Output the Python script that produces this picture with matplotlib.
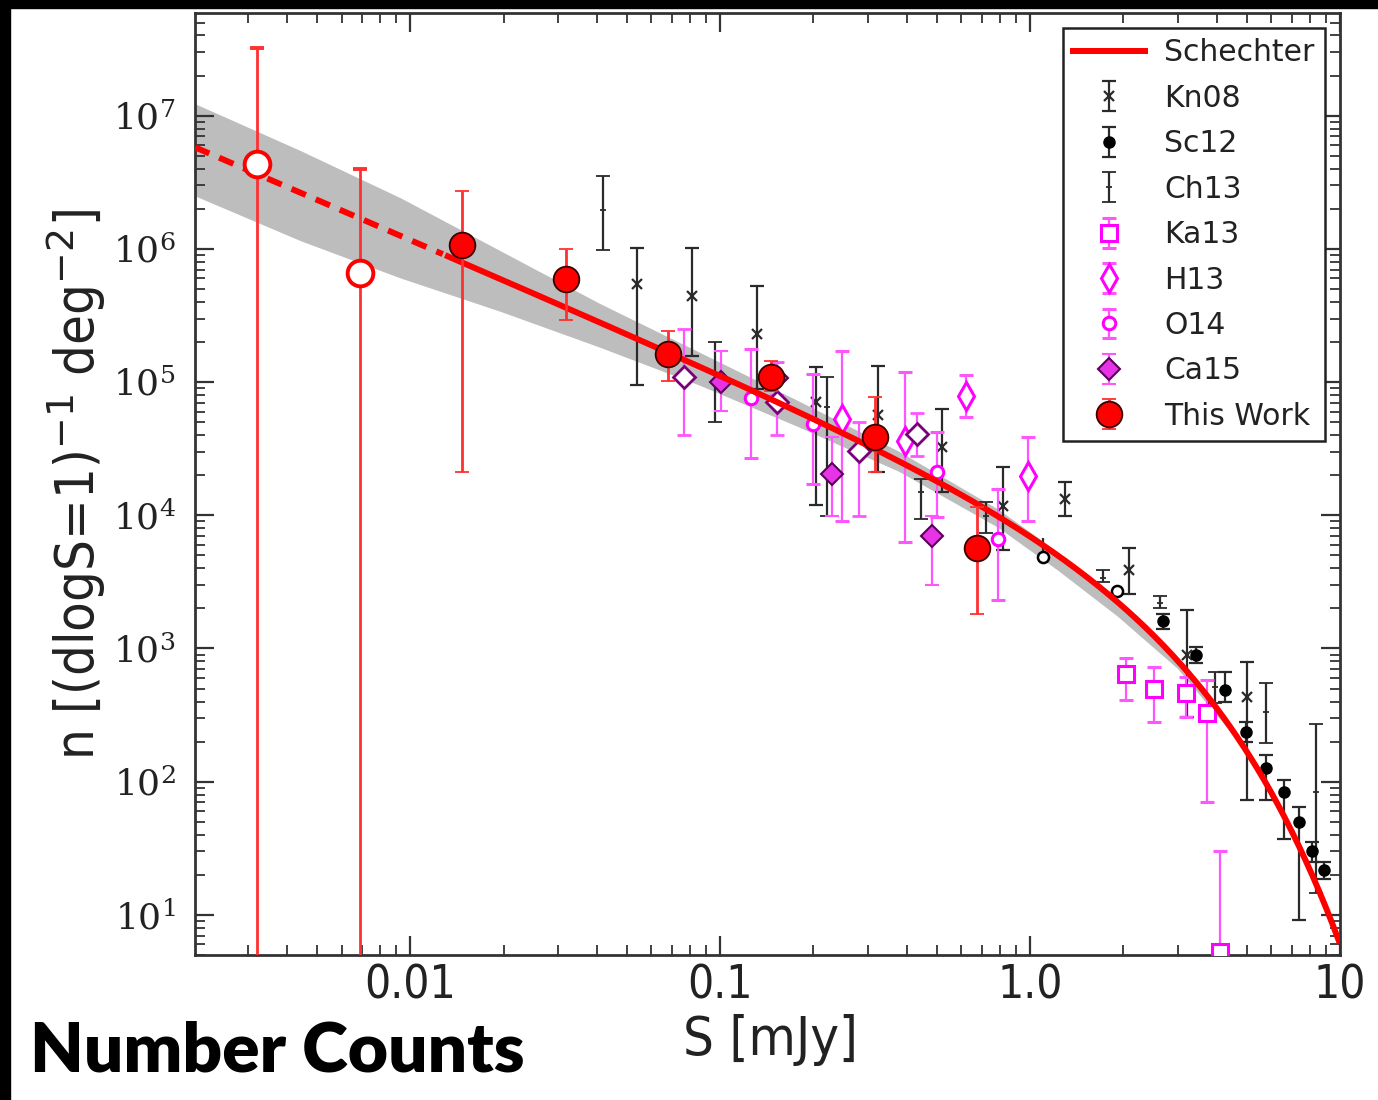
import numpy as np
import matplotlib
matplotlib.use("Agg")
import matplotlib.pyplot as plt
from matplotlib.patches import Rectangle
from matplotlib.lines import Line2D
from matplotlib.ticker import FixedLocator, FixedFormatter, LogLocator, NullFormatter, LogFormatterMathtext

# ---------------- data ----------------
# This Work (filled)
tw_S = [0.0147, 0.0318, 0.068, 0.146, 0.315, 0.676]
tw_n = [1.07e6, 5.9e5, 1.63e5, 1.09e5, 3.85e4, 5.7e3]
tw_lo = [2.1e4, 2.9e5, 1.02e5, 8.5e4, 2.1e4, 1.8e3]
tw_hi = [2.7e6, 1.0e6, 2.4e5, 1.44e5, 7.7e4, 1.15e4]
# This Work (open, below completeness)
two_S = [0.0032, 0.00686]
two_n = [4.35e6, 6.6e5]
two_lo = [1.0, 1.0]
two_hi = [3.2e7, 4.0e6]

# Schechter fit parameters and uncertainty band
sch_phi = 6160.0
sch_Sstar = 1.9
sch_alpha = -1.0
sch_break = 0.0128
band_S = [0.00202, 0.00443, 0.00929, 0.0195, 0.0408, 0.0855, 0.1795, 0.3765, 0.789,
          1.23, 1.918, 2.99, 4.67, 6.0, 8.0, 10.0]
band_hi = [1.23e7, 5.46e6, 2.42e6, 9.7e5, 3.9e5, 1.68e5, 7.2e4, 3.03e4, 1.11e4,
           5.3e3, 2.3e3, 826, 214, 82, 21.5, 6.0]
band_lo = [2.50e6, 1.15e6, 6.05e5, 3.4e5, 1.83e5, 9.5e4, 4.6e4, 2.14e4, 8.1e3,
           3.86e3, 1.74e3, 708, 205, 80, 21.0, 5.8]

# Kn08
kn_S = [0.0537, 0.0813, 0.1315, 0.204, 0.324, 0.518, 0.818, 1.30, 2.08, 3.22, 5.02]
kn_n = [5.46e5, 4.4e5, 2.3e5, 7.1e4, 5.7e4, 3.24e4, 1.17e4, 1.32e4, 3.9e3, 900, 429]
kn_lo = [9.5e4, 1.57e5, 8.9e4, 1.2e4, 2.1e4, 1.49e4, 5.5e3, 9.8e3, 2.55e3, 308, 73]
kn_hi = [1.02e6, 1.02e6, 5.3e5, 1.3e5, 1.32e5, 6.3e4, 2.3e4, 1.77e4, 5.7e3, 1.96e3, 785]
# Sc12
sc_S = [2.68, 3.42, 4.24, 4.99, 5.78, 6.61, 7.38, 8.13, 8.89]
sc_n = [1.6e3, 900, 492, 238, 127, 83, 50, 30, 21.8]
sc_lo = [1.4e3, 780, 400, 200, 73, 37, 9.2, 25, 18.5]
sc_hi = [1.8e3, 1.02e3, 670, 280, 160, 103, 65, 35, 25]
sco_S = [1.10, 1.905]
sco_n = [4.9e3, 2.7e3]
sco_lo = [4.9e3, 2.7e3]
sco_hi = [6.8e3, 2.9e3]
# Ch13
ch_S = [0.0418, 0.0964, 0.221, 0.443, 0.722, 1.72, 2.62, 3.96, 5.78, 8.37]
ch_n = [1.96e6, 1.0e5, 6.5e4, 1.49e4, 9.8e3, 3.4e3, 2.2e3, 518, 336, 83]
ch_lo = [9.8e5, 5.0e4, 9.8e3, 9.3e3, 7.4e3, 3.13e3, 2.03e3, 393, 196, 14.6]
ch_hi = [3.5e6, 2.0e5, 1.09e5, 1.87e4, 1.25e4, 3.86e3, 2.46e3, 671, 554, 269]
# Ka13
ka_S = [2.04, 2.52, 3.18, 3.73, 4.11]
ka_n = [638, 500, 467, 330, 5.3]
ka_lo = [414, 283, 308, 71, 1.0]
ka_hi = [855, 720, 615, 585, 30]
# H13
h_S = [0.247, 0.394, 0.622, 0.986]
h_n = [5.3e4, 3.6e4, 7.85e4, 1.96e4]
h_lo = [9.0e3, 6.3e3, 5.5e4, 9.0e3]
h_hi = [1.71e5, 1.19e5, 1.13e5, 3.86e4]
# O14
o_S = [0.126, 0.199, 0.499, 0.789]
o_n = [7.6e4, 4.83e4, 2.1e4, 6.6e3]
o_lo = [2.7e4, 1.71e4, 9.7e3, 2.3e3]
o_hi = [1.77e5, 1.15e5, 4.2e4, 1.57e4]
# Ca15 (filled) and open diamonds
ca_S = [0.1007, 0.152, 0.229, 0.481]
ca_n = [1.0e5, 1.08e5, 2.03e4, 6.95e3]
ca_lo = [6.05e4, 8.0e4, 9.8e3, 3.0e3]
ca_hi = [1.71e5, 1.4e5, 3.9e4, 9.8e3]
cao_S = [0.0766, 0.152, 0.280, 0.433]
cao_n = [1.09e5, 7.1e4, 3.03e4, 4.06e4]
cao_lo = [4.0e4, 4.0e4, 9.8e3, 2.8e4]
cao_hi = [2.5e5, 1.41e5, 5.0e4, 5.9e4]

x_ticks = [0.01, 0.1, 1.0, 10.0]
x_ticklabels = ["0.01", "0.1", "1.0", "10"]
y_ticks = [1e1, 1e2, 1e3, 1e4, 1e5, 1e6, 1e7]
labels = ["Schechter", "Kn08", "Sc12", "Ch13", "Ka13", "H13", "O14", "Ca15", "This Work"]

# ---------------- figure ----------------
W, H = 1378, 1100
fig = plt.figure(figsize=(W / 100, H / 100), dpi=100)
fig.patch.set_facecolor("white")
ax = fig.add_axes([195 / W, 1 - 955 / H, (1340 - 195) / W, (955 - 13) / H])
ax.set_xscale("log")
ax.set_yscale("log")
ax.set_xlim(0.00202, 10)
ax.set_ylim(5.0, 5.9e7)

cond = dict(family="DejaVu Sans", stretch="condensed")


def yerr(n, lo, hi):
    n = np.asarray(n); lo = np.asarray(lo); hi = np.asarray(hi)
    return [n - lo, hi - n]


# band
ax.fill_between(band_S, band_lo, band_hi, color="#bdbdbd", lw=0, zorder=1)

# Schechter curve
S_grid = np.logspace(np.log10(0.00202), 1, 500)
n_grid = sch_phi * (S_grid / sch_Sstar) ** sch_alpha * np.exp(-S_grid / sch_Sstar)
m = S_grid <= sch_break
ax.plot(S_grid[m], n_grid[m], color="red", lw=4.3, ls=(0, (2.6, 1.8)), zorder=6)
ax.plot(S_grid[S_grid >= sch_break], n_grid[S_grid >= sch_break], color="red", lw=4.3, zorder=6,
        solid_capstyle="butt")

blk = "#2a2a2a"
mag = "#ff00ff"
magbar = "#ff55ff"

h_kn = ax.errorbar(kn_S, kn_n, yerr=yerr(kn_n, kn_lo, kn_hi), fmt="x", color=blk, ms=7, mew=1.6,
                   ecolor=blk, elinewidth=1.6, capsize=5, capthick=1.6, zorder=3)
h_sc = ax.errorbar(sc_S, sc_n, yerr=yerr(sc_n, sc_lo, sc_hi), fmt="o", color="black", ms=8,
                   ecolor=blk, elinewidth=1.6, capsize=5, capthick=1.6, zorder=3)
ax.errorbar(sco_S, sco_n, yerr=yerr(sco_n, sco_lo, sco_hi), fmt="o", mfc="white", mec="black", ms=8,
            mew=1.8, ecolor=blk, elinewidth=1.6, capsize=0, zorder=3)
h_ch = ax.errorbar(ch_S, ch_n, yerr=yerr(ch_n, ch_lo, ch_hi), fmt="+", color=blk, ms=5, mew=1.3,
                   ecolor=blk, elinewidth=1.6, capsize=5, capthick=1.6, zorder=3)
h_ka = ax.errorbar(ka_S, ka_n, yerr=yerr(ka_n, ka_lo, ka_hi), fmt="s", mfc="white", mec=mag, ms=11,
                   mew=2.2, ecolor=magbar, elinewidth=1.6, capsize=5, capthick=1.6, zorder=4)
h_h = ax.errorbar(h_S, h_n, yerr=yerr(h_n, h_lo, h_hi), fmt="d", mfc="white", mec=mag, ms=14,
                  mew=2.2, ecolor=magbar, elinewidth=1.6, capsize=5, capthick=1.6, zorder=4)
h_o = ax.errorbar(o_S, o_n, yerr=yerr(o_n, o_lo, o_hi), fmt="o", mfc="white", mec=mag, ms=9,
                  mew=2.2, ecolor=magbar, elinewidth=1.6, capsize=5, capthick=1.6, zorder=4)
ax.errorbar(cao_S, cao_n, yerr=yerr(cao_n, cao_lo, cao_hi), fmt="D", mfc="white", mec="#7a007a", ms=11,
            mew=2.0, ecolor=magbar, elinewidth=1.6, capsize=5, capthick=1.6, zorder=4)
h_ca = ax.errorbar(ca_S, ca_n, yerr=yerr(ca_n, ca_lo, ca_hi), fmt="D", mfc="#e633e6", mec="#5a005a", ms=11,
                   mew=1.5, ecolor=magbar, elinewidth=1.6, capsize=5, capthick=1.6, zorder=4)

ax.errorbar(two_S, two_n, yerr=yerr(two_n, two_lo, two_hi), fmt="o", mfc="white", mec="red", ms=18.5,
            mew=2.8, ecolor="#ff3030", elinewidth=2.0, capsize=5, capthick=2.0, zorder=7)
h_tw = ax.errorbar(tw_S, tw_n, yerr=yerr(tw_n, tw_lo, tw_hi), fmt="o", mfc="red", mec="#3a0000", ms=18.5,
                   mew=1.3, ecolor="#ff3030", elinewidth=2.0, capsize=5, capthick=2.0, zorder=7)

h_line = Line2D([], [], color="red", lw=4.3)

leg = ax.legend([h_line, h_kn, h_sc, h_ch, h_ka, h_h, h_o, h_ca, h_tw], labels,
                loc="upper right", fontsize=21.5, frameon=True, fancybox=False, framealpha=1,
                edgecolor="#222222", borderaxespad=0.5, borderpad=0.35, labelspacing=0.55,
                handlelength=2.4, handletextpad=0.65, numpoints=1)
leg.get_frame().set_linewidth(1.8)
leg.set_zorder(10)
for t in leg.get_texts():
    t.set_color("#222222")

# ticks
ax.xaxis.set_major_locator(FixedLocator(x_ticks))
ax.xaxis.set_major_formatter(FixedFormatter(x_ticklabels))
ax.xaxis.set_minor_locator(LogLocator(base=10, subs=np.arange(2, 10), numticks=100))
ax.xaxis.set_minor_formatter(NullFormatter())
ax.yaxis.set_major_locator(FixedLocator(y_ticks))
ax.yaxis.set_major_formatter(LogFormatterMathtext())
ax.yaxis.set_minor_locator(LogLocator(base=10, subs=np.arange(2, 10), numticks=100))
ax.yaxis.set_minor_formatter(NullFormatter())
ax.tick_params(which="both", direction="in", top=True, right=True, color="#333333")
ax.tick_params(which="major", length=14, width=1.6)
ax.tick_params(which="minor", length=7, width=1.3)
ax.tick_params(axis="x", which="major", pad=6, labelsize=33, labelcolor="#222222")
ax.tick_params(axis="y", which="major", pad=14, labelsize=26, labelcolor="#222222",
               labelfontfamily="DejaVu Serif")
for lab in ax.get_xticklabels():
    lab.set_fontstretch("condensed")
for sp in ax.spines.values():
    sp.set_color("#333333")
    sp.set_linewidth(2.0)

fig.text(770 / W, 1 - 1040 / H, "S [mJy]", fontsize=39, ha="center", va="center", color="#222222", **cond)
fig.text(76 / W, 1 - 485 / H, r"n [(dlogS=1)$^{-1}$ deg$^{-2}$]", fontsize=39, rotation=90,
         ha="center", va="center", color="#222222", **cond)
fig.text(30 / W, 1 - 1071 / H, "Number Counts", fontsize=50, fontweight="heavy", family="Lato",
         ha="left", va="baseline", color="black")

# black borders of the picture
fig.patches.append(Rectangle((0, 1 - 8 / H), 1, 8 / H, transform=fig.transFigure, color="black", zorder=20))
fig.patches.append(Rectangle((0, 0), 10 / W, 1, transform=fig.transFigure, color="black", zorder=20))

fig.savefig("out.png", dpi=100, facecolor="white")
